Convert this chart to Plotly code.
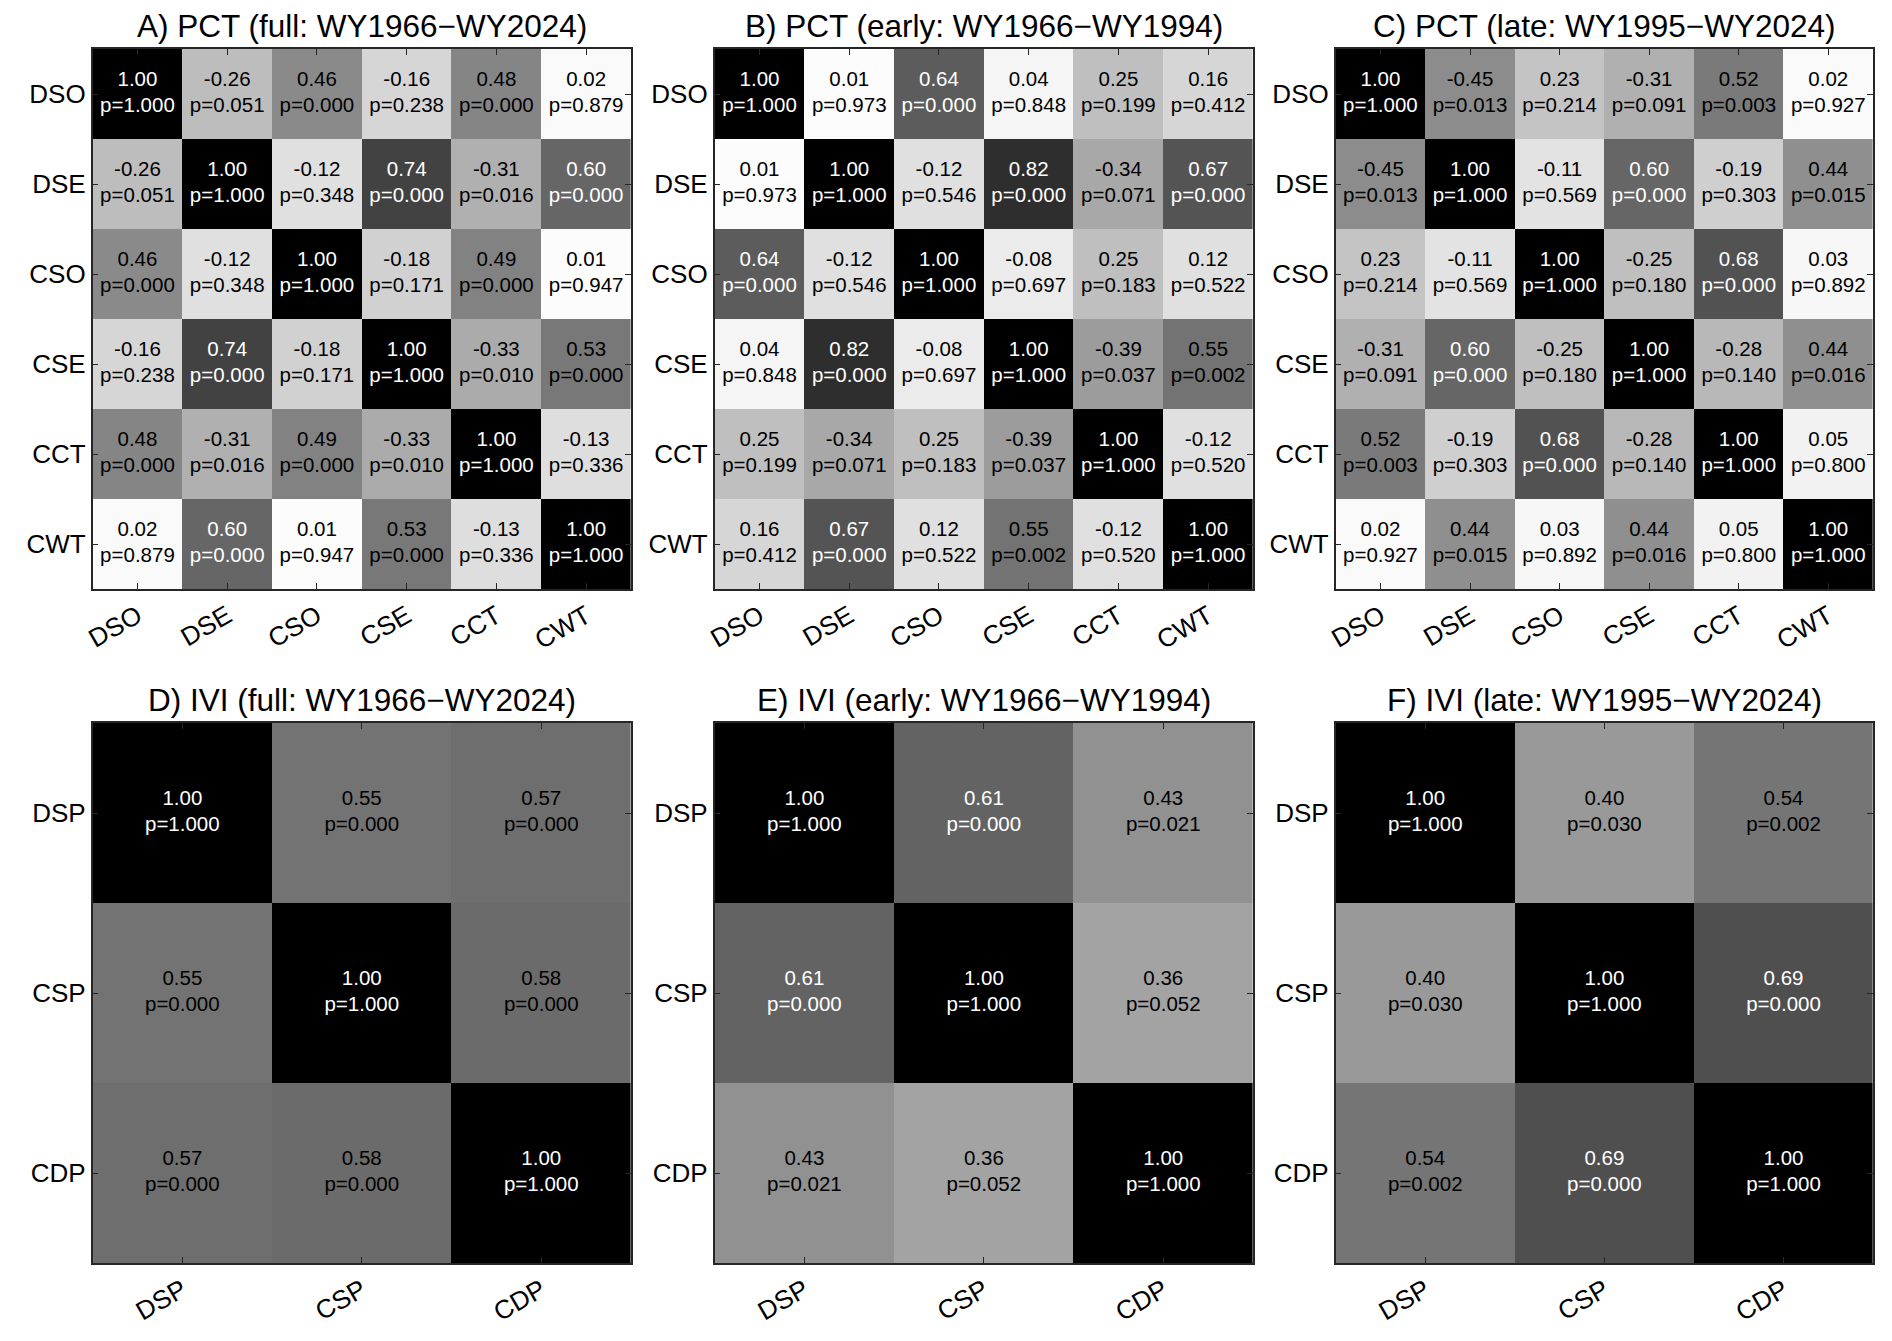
import numpy as np
import plotly.graph_objects as go
from plotly.subplots import make_subplots

# variable labels
pct_labels = ['DSO', 'DSE', 'CSO', 'CSE', 'CCT', 'CWT']
ivi_labels = ['DSP', 'CSP', 'CDP']

# PCT correlations (r) and p-values
pct_full_r = [
    [1.00, -0.26, 0.46, -0.16, 0.48, 0.02],
    [-0.26, 1.00, -0.12, 0.74, -0.31, 0.60],
    [0.46, -0.12, 1.00, -0.18, 0.49, 0.01],
    [-0.16, 0.74, -0.18, 1.00, -0.33, 0.53],
    [0.48, -0.31, 0.49, -0.33, 1.00, -0.13],
    [0.02, 0.60, 0.01, 0.53, -0.13, 1.00],
]
pct_full_p = [
    [1.000, 0.051, 0.000, 0.238, 0.000, 0.879],
    [0.051, 1.000, 0.348, 0.000, 0.016, 0.000],
    [0.000, 0.348, 1.000, 0.171, 0.000, 0.947],
    [0.238, 0.000, 0.171, 1.000, 0.010, 0.000],
    [0.000, 0.016, 0.000, 0.010, 1.000, 0.336],
    [0.879, 0.000, 0.947, 0.000, 0.336, 1.000],
]
pct_early_r = [
    [1.00, 0.01, 0.64, 0.04, 0.25, 0.16],
    [0.01, 1.00, -0.12, 0.82, -0.34, 0.67],
    [0.64, -0.12, 1.00, -0.08, 0.25, 0.12],
    [0.04, 0.82, -0.08, 1.00, -0.39, 0.55],
    [0.25, -0.34, 0.25, -0.39, 1.00, -0.12],
    [0.16, 0.67, 0.12, 0.55, -0.12, 1.00],
]
pct_early_p = [
    [1.000, 0.973, 0.000, 0.848, 0.199, 0.412],
    [0.973, 1.000, 0.546, 0.000, 0.071, 0.000],
    [0.000, 0.546, 1.000, 0.697, 0.183, 0.522],
    [0.848, 0.000, 0.697, 1.000, 0.037, 0.002],
    [0.199, 0.071, 0.183, 0.037, 1.000, 0.520],
    [0.412, 0.000, 0.522, 0.002, 0.520, 1.000],
]
pct_late_r = [
    [1.00, -0.45, 0.23, -0.31, 0.52, 0.02],
    [-0.45, 1.00, -0.11, 0.60, -0.19, 0.44],
    [0.23, -0.11, 1.00, -0.25, 0.68, 0.03],
    [-0.31, 0.60, -0.25, 1.00, -0.28, 0.44],
    [0.52, -0.19, 0.68, -0.28, 1.00, 0.05],
    [0.02, 0.44, 0.03, 0.44, 0.05, 1.00],
]
pct_late_p = [
    [1.000, 0.013, 0.214, 0.091, 0.003, 0.927],
    [0.013, 1.000, 0.569, 0.000, 0.303, 0.015],
    [0.214, 0.569, 1.000, 0.180, 0.000, 0.892],
    [0.091, 0.000, 0.180, 1.000, 0.140, 0.016],
    [0.003, 0.303, 0.000, 0.140, 1.000, 0.800],
    [0.927, 0.015, 0.892, 0.016, 0.800, 1.000],
]

# IVI correlations (r) and p-values
ivi_full_r = [
    [1.00, 0.55, 0.57],
    [0.55, 1.00, 0.58],
    [0.57, 0.58, 1.00],
]
ivi_full_p = [
    [1.000, 0.000, 0.000],
    [0.000, 1.000, 0.000],
    [0.000, 0.000, 1.000],
]
ivi_early_r = [
    [1.00, 0.61, 0.43],
    [0.61, 1.00, 0.36],
    [0.43, 0.36, 1.00],
]
ivi_early_p = [
    [1.000, 0.000, 0.021],
    [0.000, 1.000, 0.052],
    [0.021, 0.052, 1.000],
]
ivi_late_r = [
    [1.00, 0.40, 0.54],
    [0.40, 1.00, 0.69],
    [0.54, 0.69, 1.00],
]
ivi_late_p = [
    [1.000, 0.030, 0.002],
    [0.030, 1.000, 0.000],
    [0.002, 0.000, 1.000],
]

titles = [
    'A) PCT (full: WY1966\u2212WY2024)',
    'B) PCT (early: WY1966\u2212WY1994)',
    'C) PCT (late: WY1995\u2212WY2024)',
    'D) IVI (full: WY1966\u2212WY2024)',
    'E) IVI (early: WY1966\u2212WY1994)',
    'F) IVI (late: WY1995\u2212WY2024)',
]

panels = [
    (pct_labels, pct_full_r, pct_full_p),
    (pct_labels, pct_early_r, pct_early_p),
    (pct_labels, pct_late_r, pct_late_p),
    (ivi_labels, ivi_full_r, ivi_full_p),
    (ivi_labels, ivi_early_r, ivi_early_p),
    (ivi_labels, ivi_late_r, ivi_late_p),
]

W, H = 1892, 1341
# panel boxes in pixels (left, right) and (top, bottom)
col_px = [(84, 625), (709, 1250), (1333, 1873)]
row_px = [(49, 589), (723, 1263)]

FONT = 'Arial, Liberation Sans, sans-serif'
AX_COLOR = '#262626'

fig = make_subplots(rows=2, cols=3)

for k, (labels, r, p) in enumerate(panels):
    row, col = k // 3 + 1, k % 3 + 1
    r = np.array(r)
    p = np.array(p)
    n = len(labels)

    fig.add_trace(go.Heatmap(
        x=labels, y=labels, z=np.abs(r),
        zmin=0, zmax=1,
        colorscale=[[0, 'white'], [1, 'black']],
        showscale=False, hoverinfo='skip'
    ), row=row, col=col)

    xs, ys, txt, colors = [], [], [], []
    for i in range(n):
        for j in range(n):
            xs.append(labels[j])
            ys.append(labels[i])
            txt.append(f'{r[i, j]:.2f}<br>p={p[i, j]:.3f}')
            colors.append('white' if abs(r[i, j]) >= 0.595 else 'black')
    fig.add_trace(go.Scatter(
        x=xs, y=ys, mode='text', text=txt,
        textfont=dict(size=20.5, color=colors, family=FONT),
        showlegend=False, hoverinfo='skip'
    ), row=row, col=col)

    x0, x1 = col_px[col - 1]
    y0, y1 = row_px[row - 1]
    fig.update_xaxes(
        domain=[x0 / W, x1 / W], type='category', range=[-0.5, n - 0.5],
        showline=True, linecolor=AX_COLOR, linewidth=1.5, mirror='ticks',
        ticks='inside', ticklen=6, tickwidth=1.2, tickcolor=AX_COLOR,
        tickangle=-30, tickfont=dict(size=26, family=FONT, color='black'),
        showgrid=False, zeroline=False,
        row=row, col=col)
    fig.update_yaxes(
        domain=[1 - y1 / H, 1 - y0 / H], type='category', range=[n - 0.5, -0.5],
        showline=True, linecolor=AX_COLOR, linewidth=1.5, mirror='ticks',
        ticks='inside', ticklen=6, tickwidth=1.2, tickcolor=AX_COLOR,
        tickfont=dict(size=26, family=FONT, color='black'),
        showgrid=False, zeroline=False,
        row=row, col=col)

    fig.add_annotation(
        text=titles[k], x=(x0 + x1) / 2 / W, y=1 - (y0 - 3) / H,
        xref='paper', yref='paper', xanchor='center', yanchor='bottom',
        showarrow=False, font=dict(size=31.5, family=FONT, color='black'))

fig.update_layout(
    width=W, height=H,
    margin=dict(l=0, r=0, t=0, b=0),
    paper_bgcolor='white', plot_bgcolor='white',
    showlegend=False,
)

# drop the default page margin so the figure sits at the window's corner
fig.write_html("out.html", config={'displayModeBar': False},
               post_script="document.body.style.margin='0';")
